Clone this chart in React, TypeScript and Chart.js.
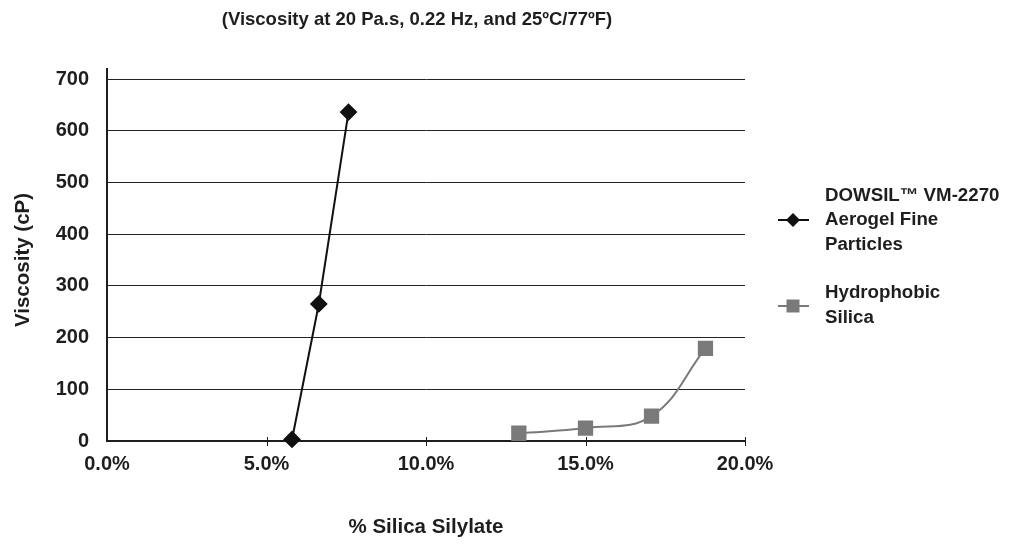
import React, { useEffect, useRef } from "react";
import { Chart, registerables } from "chart.js";

Chart.register(...registerables);

// ---- data ----
const titleText = "(Viscosity at 20 Pa.s, 0.22 Hz, and 25ºC/77ºF)";
const xAxisTitle = "% Silica Silylate";
const yAxisTitle = "Viscosity (cP)";

const aerogelLegend = ["DOWSIL™ VM-2270", "Aerogel Fine", "Particles"];
const aerogelX = [0.058, 0.0664, 0.0757];
const aerogelY = [3, 265, 636];

const silicaLegend = ["Hydrophobic", "Silica"];
const silicaX = [0.1291, 0.15, 0.1707, 0.1876];
const silicaY = [15, 25, 48, 179];

const xMin = 0;
const xMax = 0.2;
const xStep = 0.05;
const yMin = 0;
const yMax = 700;
const yStep = 100;

const FONT = "'Liberation Sans', Arial, Helvetica, sans-serif";
const TEXT = "#1e1e1e";

const legendLines = [aerogelLegend, silicaLegend];

const decorPlugin = {
  id: "decor",
  afterDraw(chart: any) {
    const { ctx, chartArea, scales } = chart;
    const xs = scales.x;
    ctx.save();
    // crossing tick marks on x axis
    ctx.strokeStyle = "#1e1e1e";
    ctx.lineWidth = 1;
    xs.ticks.forEach((t: any) => {
      if (t.value === xMin) return;
      const px = Math.round(xs.getPixelForValue(t.value)) + 0.5;
      ctx.beginPath();
      ctx.moveTo(px, chartArea.bottom - 4);
      ctx.lineTo(px, chartArea.bottom + 5);
      ctx.stroke();
    });
    // y axis line extends a little above top
    ctx.lineWidth = 2;
    ctx.beginPath();
    ctx.moveTo(chartArea.left, chartArea.top - 11);
    ctx.lineTo(chartArea.left, chartArea.top);
    ctx.stroke();

    // title
    ctx.fillStyle = TEXT;
    ctx.font = `bold 18.5px ${FONT}`;
    ctx.textAlign = "center";
    ctx.textBaseline = "middle";
    ctx.fillText(titleText, 417, 20);

    // legend
    const markerX = 793;
    const textX = 825;
    const lineH = 24.5;
    const centers = [220, 306];
    ctx.font = `bold 18.7px ${FONT}`;
    ctx.textAlign = "left";
    chart.data.datasets.forEach((ds: any, i: number) => {
      const lines = legendLines[i];
      const cy = centers[i];
      ctx.strokeStyle = ds.borderColor;
      ctx.lineWidth = 2;
      ctx.beginPath();
      ctx.moveTo(markerX - 15, cy);
      ctx.lineTo(markerX + 16, cy);
      ctx.stroke();
      ctx.fillStyle = ds.pointBackgroundColor;
      ctx.beginPath();
      if (ds.pointStyle === "rectRot") {
        const r = 7;
        ctx.moveTo(markerX, cy - r);
        ctx.lineTo(markerX + r, cy);
        ctx.lineTo(markerX, cy + r);
        ctx.lineTo(markerX - r, cy);
        ctx.closePath();
      } else {
        ctx.rect(markerX - 6.5, cy - 6.5, 13, 13);
      }
      ctx.fill();
      ctx.fillStyle = TEXT;
      lines.forEach((ln: string, k: number) => {
        const y =
          lines.length === 2
            ? cy - 13 + k * lineH
            : cy - ((lines.length - 1) / 2) * lineH + k * lineH;
        ctx.fillText(ln, textX, y);
      });
    });
    ctx.restore();
  },
};

export default function App() {
  const ref = useRef<HTMLCanvasElement>(null);
  useEffect(() => {
    if (!ref.current) return;
    const chart = new Chart(ref.current, {
      type: "line",
      data: {
        datasets: [
          {
            label: aerogelLegend.join(" "),
            data: aerogelX.map((x, i) => ({ x, y: aerogelY[i] })),
            borderColor: "#111111",
            backgroundColor: "#111111",
            pointBackgroundColor: "#111111",
            pointBorderColor: "#111111",
            pointStyle: "rectRot",
            pointRadius: 7.5,
            borderWidth: 2,
            tension: 0,
            clip: false as any,
          },
          {
            label: silicaLegend.join(" "),
            data: silicaX.map((x, i) => ({ x, y: silicaY[i] })),
            borderColor: "#7a7a7a",
            backgroundColor: "#7a7a7a",
            pointBackgroundColor: "#7a7a7a",
            pointBorderColor: "#7a7a7a",
            pointStyle: "rect",
            pointRadius: 9.4,
            borderWidth: 2,
            tension: 0.4,
            clip: false as any,
          },
        ],
      },
      options: {
        animation: false,
        responsive: true,
        maintainAspectRatio: false,
        layout: { padding: { left: 0, right: 270, top: 79, bottom: 0 } },
        plugins: {
          legend: { display: false },
          title: { display: false },
          tooltip: { enabled: false },
        },
        scales: {
          x: {
            type: "linear",
            min: xMin,
            max: xMax,
            ticks: {
              stepSize: xStep,
              padding: 11,
              color: TEXT,
              font: { family: FONT, size: 20, weight: "bold" },
              callback: (v: any) => (Number(v) * 100).toFixed(1) + "%",
            },
            grid: { display: true, drawOnChartArea: false, drawTicks: false },
            border: { color: "#1e1e1e", width: 2 },
            title: {
              display: true,
              text: xAxisTitle,
              color: TEXT,
              font: { family: FONT, size: 20.5, weight: "bold" },
              padding: { top: 0, bottom: 8 },
            },
            afterFit: (s: any) => {
              s.height = 107;
            },
          },
          y: {
            type: "linear",
            min: yMin,
            max: yMax,
            ticks: {
              stepSize: yStep,
              padding: 18,
              color: TEXT,
              font: { family: FONT, size: 20, weight: "bold" },
            },
            grid: { color: "#222222", lineWidth: 1, drawTicks: false },
            border: { color: "#1e1e1e", width: 2 },
            title: {
              display: true,
              text: yAxisTitle,
              color: TEXT,
              font: { family: FONT, size: 20.5, weight: "bold" },
              padding: { top: 11, bottom: 0 },
            },
            afterFit: (s: any) => {
              s.width = 107;
            },
          },
        },
      },
      plugins: [decorPlugin],
    });
    return () => chart.destroy();
  }, []);
  return (
    <div style={{ position: "absolute", left: 0, top: 0, width: 1015, height: 548, background: "#fff" }}>
      <canvas ref={ref} />
    </div>
  );
}
